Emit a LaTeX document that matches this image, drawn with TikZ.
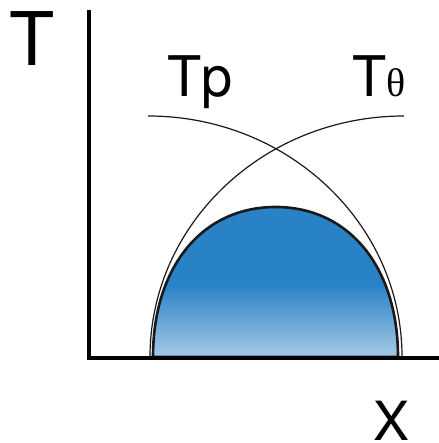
\documentclass[tikz,border=0pt]{standalone}
\usepackage{fontspec}
\setmainfont{TeX Gyre Heros}
\newfontfamily\thetafont{Liberation Serif}
\usetikzlibrary{positioning,calc}
\definecolor{domeblue}{RGB}{41,129,198}
\definecolor{domelight}{RGB}{165,202,232}
\tikzset{
  axisln/.style={line width=4.5pt,line join=miter},
  domeln/.style={line width=2.6pt,black!90},
  tcurve/.style={line width=1.2pt,black!90},
  biglbl/.style={font=\fontsize{74}{74}\selectfont,anchor=base west,inner sep=0pt},
  lbl/.style={font=\fontsize{56}{56}\selectfont,anchor=base west,inner sep=0pt},
}
\begin{document}
\begin{tikzpicture}[x=1pt,y=1pt]
  \useasboundingbox (0,0) rectangle (438,443);
  % dome (a bit fuller than an ellipse)
  \def\domepath{(153,86) .. controls (153,176) and (202,236) .. (275.5,236)
    .. controls (349,236) and (398,176) .. (398,86) -- cycle}
  \begin{scope}
    \clip \domepath;
    \fill[domeblue] (140,158) rectangle (410,240);
    \shade[top color=domeblue,bottom color=domelight] (140,86) rectangle (410,158.5);
  \end{scope}
  \draw[domeln] \domepath;
  % the two crossing curves
  \coordinate (tpstart) at (148,327);
  \coordinate (ttstart) at (404,327);
  \draw[tcurve] (tpstart) arc[start angle=90,end angle=0,x radius=254,y radius=241];
  \draw[tcurve] (ttstart) arc[start angle=90,end angle=180,x radius=254,y radius=241];
  % axes
  \coordinate (ytop) at (89,433);
  \coordinate (orig) at (89,85);
  \coordinate (xend) at (440,85);
  \draw[axisln] (ytop) -- (orig) -- (xend);
  % labels
  \node[biglbl] (tlbl) at (9,377) {T};
  \node[lbl] (tplbl) at (167,346) {Tp};
  \node[lbl] (ttlbl) at (352,346) {T{\thetafont\fontsize{40}{40}\selectfont θ}};
  \node[font=\fontsize{54}{54}\selectfont,anchor=base west,inner sep=0pt] (xlbl) at (373,2) {X};
\end{tikzpicture}
\end{document}
